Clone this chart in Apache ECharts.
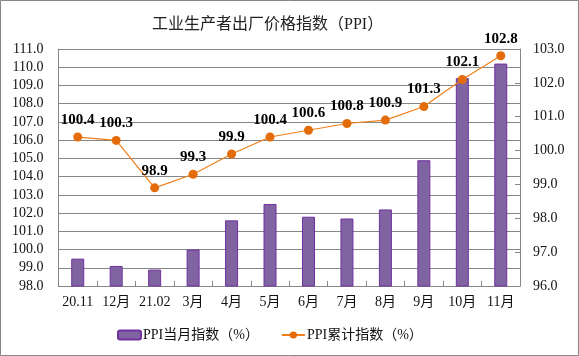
<!DOCTYPE html>
<html><head><meta charset="utf-8">
<script src="https://cdn.jsdelivr.net/npm/echarts@6/dist/echarts.min.js"></script>
<style>html,body{margin:0;padding:0;background:#fff}#c{width:579px;height:356px}</style>
</head><body><div id="c"></div>
<script>
const categories = ['20.11','12月','21.02','3月','4月','5月','6月','7月','8月','9月','10月','11月'];
const monthly = [99.5, 99.1, 98.9, 100.0, 101.6, 102.5, 101.8, 101.7, 102.2, 104.9, 109.4, 110.2];
const cumulative = [100.4, 100.3, 98.9, 99.3, 99.9, 100.4, 100.6, 100.8, 100.9, 101.3, 102.1, 102.8];
const leftTicks = {min: 98, max: 111, interval: 1};
const rightTicks = {min: 96, max: 103, interval: 1};
const titleText = '工业生产者出厂价格指数（PPI）';
const seriesNames = ['PPI当月指数（%）', 'PPI累计指数（%）'];

const FONT = "'Liberation Serif', 'Times New Roman', 'Noto Sans CJK SC', serif";
const chart = echarts.init(document.getElementById('c'), null, {renderer: 'canvas'});
chart.setOption({
  animation: false,
  backgroundColor: '#fff',
  graphic: [{type: 'rect', shape: {x: 0.5, y: 0.5, width: 578, height: 355}, style: {fill: 'none', stroke: '#868686', lineWidth: 1}, z: 100}],
  title: {text: titleText, left: 147, top: 12, textStyle: {fontFamily: FONT, fontSize: 16, fontWeight: 'normal', color: '#222'}},
  legend: {
    data: seriesNames, bottom: 9, left: 112, itemGap: 22,
    textStyle: {fontFamily: FONT, fontSize: 14, color: '#111', padding: [0, 0, 0, -3]},
    itemWidth: 23, itemHeight: 9
  },
  grid: {left: 58.5, right: 59, top: 49, bottom: 70, containLabel: false},
  xAxis: {
    type: 'category', data: categories,
    axisLine: {lineStyle: {color: '#868686'}},
    axisTick: {show: true, inside: true, length: 5, lineStyle: {color: '#868686'}},
    axisLabel: {fontFamily: FONT, fontSize: 14, color: '#111', margin: 9, interval: 0}
  },
  yAxis: [{
    type: 'value', min: leftTicks.min, max: leftTicks.max, interval: leftTicks.interval,
    axisLine: {show: true, lineStyle: {color: '#868686'}},
    axisTick: {show: false},
    splitLine: {lineStyle: {color: '#868686', width: 1}},
    axisLabel: {fontFamily: FONT, fontSize: 14, color: '#111', margin: 15, formatter: v => v.toFixed(1)}
  }, {
    type: 'value', min: rightTicks.min, max: rightTicks.max, interval: rightTicks.interval,
    axisLine: {show: true, lineStyle: {color: '#868686'}},
    axisTick: {show: true, inside: true, length: 5, lineStyle: {color: '#868686'}},
    splitLine: {show: false},
    axisLabel: {fontFamily: FONT, fontSize: 14, color: '#111', margin: 13, formatter: v => v.toFixed(1)}
  }],
  series: [{
    name: seriesNames[0], type: 'bar', data: monthly, yAxisIndex: 0, barWidth: 13,
    itemStyle: {color: '#8064A2', borderColor: '#7030A0', borderWidth: 1}
  }, {
    name: seriesNames[1], type: 'line', data: cumulative, yAxisIndex: 1,
    symbol: 'circle', symbolSize: 9,
    lineStyle: {color: '#F07F1A', width: 1.2},
    itemStyle: {color: '#E46C0A'},
    label: {show: true, position: 'top', distance: 5, fontFamily: FONT, fontSize: 15, fontWeight: 'bold', color: '#000', formatter: p => p.value.toFixed(1)}
  }]
});
</script></body></html>
